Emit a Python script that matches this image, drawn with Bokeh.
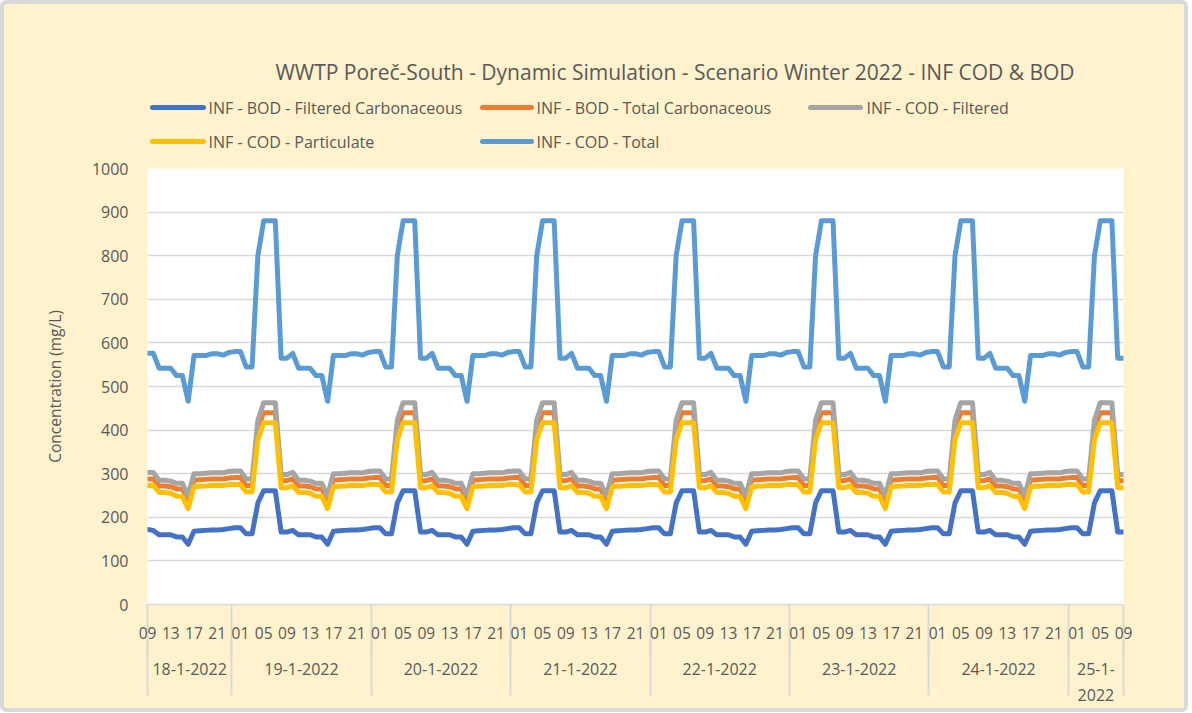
from bokeh.plotting import figure
from bokeh.layouts import column
from bokeh.models import Range1d, LinearAxis, FixedTicker
from bokeh.core.properties import value
from bokeh.embed import file_html
from bokeh.resources import INLINE

# ---------------- data ----------------
days = ["18-1-2022", "19-1-2022", "20-1-2022", "21-1-2022",
        "22-1-2022", "23-1-2022", "24-1-2022", "25-1-2022"]
day_labels = ["18-1-2022", "19-1-2022", "20-1-2022", "21-1-2022",
              "22-1-2022", "23-1-2022", "24-1-2022", "25-1-\n2022"]
first_hour = 9
last_hour = 9

bod_filtered = [
    172, 170, 160, 160, 160, 155, 155, 138, 168, 169, 170, 171, 171, 172, 174,
    176, 176, 162, 162, 233, 261, 261, 261, 166, 166, 170, 160, 160, 160, 155, 155, 138, 168, 169, 170, 171, 171, 172, 174,
    176, 176, 162, 162, 233, 261, 261, 261, 166, 166, 170, 160, 160, 160, 155, 155, 138, 168, 169, 170, 171, 171, 172, 174,
    176, 176, 162, 162, 233, 261, 261, 261, 166, 166, 170, 160, 160, 160, 155, 155, 138, 168, 169, 170, 171, 171, 172, 174,
    176, 176, 162, 162, 233, 261, 261, 261, 166, 166, 170, 160, 160, 160, 155, 155, 138, 168, 169, 170, 171, 171, 172, 174,
    176, 176, 162, 162, 233, 261, 261, 261, 166, 166, 170, 160, 160, 160, 155, 155, 138, 168, 169, 170, 171, 171, 172, 174,
    176, 176, 162, 162, 233, 261, 261, 261, 166, 166, 170, 160, 160, 160, 155, 155, 138, 168, 169, 170, 171, 171, 172, 174,
    176, 176, 162, 162, 233, 261, 261, 261, 166, 166,
]
bod_total = [
    288, 288, 272, 272, 270, 265, 265, 240, 285, 286, 287, 288, 288, 288, 290,
    291, 291, 273, 273, 405, 440, 440, 440, 284, 284, 288, 272, 272, 270, 265, 265, 240, 285, 286, 287, 288, 288, 288, 290,
    291, 291, 273, 273, 405, 440, 440, 440, 284, 284, 288, 272, 272, 270, 265, 265, 240, 285, 286, 287, 288, 288, 288, 290,
    291, 291, 273, 273, 405, 440, 440, 440, 284, 284, 288, 272, 272, 270, 265, 265, 240, 285, 286, 287, 288, 288, 288, 290,
    291, 291, 273, 273, 405, 440, 440, 440, 284, 284, 288, 272, 272, 270, 265, 265, 240, 285, 286, 287, 288, 288, 288, 290,
    291, 291, 273, 273, 405, 440, 440, 440, 284, 284, 288, 272, 272, 270, 265, 265, 240, 285, 286, 287, 288, 288, 288, 290,
    291, 291, 273, 273, 405, 440, 440, 440, 284, 284, 288, 272, 272, 270, 265, 265, 240, 285, 286, 287, 288, 288, 288, 290,
    291, 291, 273, 273, 405, 440, 440, 440, 284, 284,
]
cod_filtered = [
    303, 303, 285, 285, 283, 278, 278, 250, 300, 300, 301, 302, 302, 302, 305,
    306, 306, 288, 288, 423, 463, 463, 463, 298, 298, 303, 285, 285, 283, 278, 278, 250, 300, 300, 301, 302, 302, 302, 305,
    306, 306, 288, 288, 423, 463, 463, 463, 298, 298, 303, 285, 285, 283, 278, 278, 250, 300, 300, 301, 302, 302, 302, 305,
    306, 306, 288, 288, 423, 463, 463, 463, 298, 298, 303, 285, 285, 283, 278, 278, 250, 300, 300, 301, 302, 302, 302, 305,
    306, 306, 288, 288, 423, 463, 463, 463, 298, 298, 303, 285, 285, 283, 278, 278, 250, 300, 300, 301, 302, 302, 302, 305,
    306, 306, 288, 288, 423, 463, 463, 463, 298, 298, 303, 285, 285, 283, 278, 278, 250, 300, 300, 301, 302, 302, 302, 305,
    306, 306, 288, 288, 423, 463, 463, 463, 298, 298, 303, 285, 285, 283, 278, 278, 250, 300, 300, 301, 302, 302, 302, 305,
    306, 306, 288, 288, 423, 463, 463, 463, 298, 298,
]
cod_particulate = [
    273, 273, 257, 257, 255, 248, 248, 220, 270, 271, 272, 273, 273, 273, 275,
    275, 275, 258, 258, 378, 417, 417, 417, 268, 268, 272, 257, 257, 255, 248, 248, 220, 270, 271, 272, 273, 273, 273, 275,
    275, 275, 258, 258, 378, 417, 417, 417, 268, 268, 272, 257, 257, 255, 248, 248, 220, 270, 271, 272, 273, 273, 273, 275,
    275, 275, 258, 258, 378, 417, 417, 417, 268, 268, 272, 257, 257, 255, 248, 248, 220, 270, 271, 272, 273, 273, 273, 275,
    275, 275, 258, 258, 378, 417, 417, 417, 268, 268, 272, 257, 257, 255, 248, 248, 220, 270, 271, 272, 273, 273, 273, 275,
    275, 275, 258, 258, 378, 417, 417, 417, 268, 268, 272, 257, 257, 255, 248, 248, 220, 270, 271, 272, 273, 273, 273, 275,
    275, 275, 258, 258, 378, 417, 417, 417, 268, 268, 272, 257, 257, 255, 248, 248, 220, 270, 271, 272, 273, 273, 273, 275,
    275, 275, 258, 258, 378, 417, 417, 417, 268, 268,
]
cod_total = [
    576, 576, 542, 542, 542, 525, 525, 466, 571, 571, 571, 575, 575, 572, 578,
    580, 580, 545, 545, 800, 880, 880, 880, 565, 565, 576, 542, 542, 542, 525, 525, 466, 571, 571, 571, 575, 575, 572, 578,
    580, 580, 545, 545, 800, 880, 880, 880, 565, 565, 576, 542, 542, 542, 525, 525, 466, 571, 571, 571, 575, 575, 572, 578,
    580, 580, 545, 545, 800, 880, 880, 880, 565, 565, 576, 542, 542, 542, 525, 525, 466, 571, 571, 571, 575, 575, 572, 578,
    580, 580, 545, 545, 800, 880, 880, 880, 565, 565, 576, 542, 542, 542, 525, 525, 466, 571, 571, 571, 575, 575, 572, 578,
    580, 580, 545, 545, 800, 880, 880, 880, 565, 565, 576, 542, 542, 542, 525, 525, 466, 571, 571, 571, 575, 575, 572, 578,
    580, 580, 545, 545, 800, 880, 880, 880, 565, 565, 576, 542, 542, 542, 525, 525, 466, 571, 571, 571, 575, 575, 572, 578,
    580, 580, 545, 545, 800, 880, 880, 880, 565, 565,
]

series_names = ["INF - BOD - Filtered Carbonaceous", "INF - BOD - Total Carbonaceous",
                "INF - COD - Filtered", "INF - COD - Particulate", "INF - COD - Total"]
series_colors = ["#4472C4", "#ED7D31", "#A5A5A5", "#FFC000", "#5B9BD5"]
series_values = [bod_filtered, bod_total, cod_filtered, cod_particulate, cod_total]
title_text = "WWTP Poreč-South - Dynamic Simulation - Scenario Winter 2022 - INF COD & BOD"

# ---------------- categories (day, hour) ----------------
cats = []
for di, d in enumerate(days):
    h0 = first_hour if di == 0 else 0
    h1 = last_hour if di == len(days) - 1 else 23
    for h in range(h0, h1 + 1):
        cats.append((d, h))
n = len(cats)
for s in series_values:
    assert len(s) == n, (len(s), n)
x = list(range(n))

TXT = "#595959"
GRID = "#D9D9D9"
CREAM = "#FFF2CC"
FONT = "Open Sans"
W = 1180
HEAD_H = 154
MAIN_H = 550
BL, BR = 143, 61          # left / right borders around the plot frame
OX, OY = 4, 4             # page offset of the canvases (css border)

# ---------------- header: title + legend (page-pixel coordinates) ----------------
head = figure(width=W, height=HEAD_H,
              x_range=Range1d(OX + BL, OX + W - BR), y_range=Range1d(OY + HEAD_H, OY),
              output_backend="svg", toolbar_location=None,
              min_border_left=BL, min_border_right=BR, min_border_top=0, min_border_bottom=0,
              x_axis_type=None, y_axis_type=None,
              background_fill_color=CREAM, border_fill_color=CREAM)
head.outline_line_color = None
head.grid.visible = False

head.text(x=[674.5], y=[71], text=[title_text], text_align="center", text_baseline="middle",
          text_color=TXT, text_font=value(FONT), text_font_size=value("21px"))

leg_x0 = [152, 482, 810, 152, 482]
leg_x1 = [203, 531, 860, 203, 531]
leg_tx = [208, 536, 866, 208, 536]
leg_y = [107, 107, 107, 141, 141]
head.segment(x0=leg_x0, y0=leg_y, x1=leg_x1, y1=leg_y, line_color=series_colors,
             line_width=5, line_cap="round")
head.text(x=leg_tx, y=leg_y, text=series_names, text_align="left", text_baseline="middle",
          text_color=TXT, text_font=value(FONT), text_font_size=value("16px"))

# ---------------- main chart ----------------
p = figure(width=W, height=MAIN_H, x_range=Range1d(0, n - 1), y_range=Range1d(0, 1000),
           output_backend="svg", toolbar_location=None,
           min_border_left=BL, min_border_right=BR, min_border_top=10, min_border_bottom=101,
           background_fill_color="white", border_fill_color=CREAM)
p.outline_line_color = None

for name, col, vals in zip(series_names, series_colors, series_values):
    p.line(x, vals, line_color=col, line_width=5, line_join="round", line_cap="round")

# grid
p.xgrid.grid_line_color = None
p.ygrid.grid_line_color = GRID
p.ygrid.grid_line_width = 1.5
p.ygrid.ticker = FixedTicker(ticks=list(range(0, 1001, 100)))

# y axis
ya = p.yaxis[0]
ya.ticker = FixedTicker(ticks=list(range(0, 1001, 100)))
ya.axis_line_color = None
ya.major_tick_line_color = None
ya.minor_tick_line_color = None
ya.major_tick_out = 0
ya.major_tick_in = 0
ya.minor_tick_out = 0
ya.major_label_text_color = TXT
ya.major_label_text_font = FONT
ya.major_label_text_font_size = "16px"
ya.major_label_standoff = 19
ya.axis_label = "Concentration (mg/L)"
ya.axis_label_text_font_style = "normal"
ya.axis_label_text_font = FONT
ya.axis_label_text_font_size = "15.5px"
ya.axis_label_text_color = TXT
ya.axis_label_standoff = 23

# hour axis (day separators drawn as its minor ticks)
hour_ticks = [i for i in x if i % 4 == 0]
boundaries = [0] + [i - 0.5 for i in range(1, n) if cats[i][0] != cats[i - 1][0]] + [n - 1]
xa = p.xaxis[0]
xa.ticker = FixedTicker(ticks=hour_ticks, minor_ticks=boundaries)
xa.major_label_overrides = {i: "%02d" % cats[i][1] for i in hour_ticks}
xa.axis_line_color = GRID
xa.axis_line_width = 1.5
xa.major_tick_line_color = None
xa.major_tick_out = 0
xa.major_tick_in = 0
xa.minor_tick_line_color = GRID
xa.minor_tick_line_width = 2
xa.minor_tick_in = 0
xa.minor_tick_out = 50
xa.major_label_text_color = TXT
xa.major_label_text_font = FONT
xa.major_label_text_font_size = "15.5px"
xa.major_label_standoff = -28

# day axis
centers = [(boundaries[k] + boundaries[k + 1]) / 2 for k in range(len(days))]
da = LinearAxis(ticker=FixedTicker(ticks=centers, minor_ticks=boundaries),
                major_label_overrides={c: lab for c, lab in zip(centers, day_labels)},
                axis_line_color=None, major_tick_line_color=None,
                minor_tick_line_color=GRID, minor_tick_line_width=2,
                major_tick_out=0, major_tick_in=0, minor_tick_out=54, minor_tick_in=0,
                major_label_text_color=TXT, major_label_text_font=FONT,
                major_label_text_font_size="16px", major_label_standoff=-38)
p.add_layout(da, "below")

layout = column(head, p, spacing=0,
                styles={"border": "4px solid #D9D9D9", "border-radius": "6px",
                        "background-color": CREAM})

open("out.html", "w").write(file_html(layout, INLINE))
